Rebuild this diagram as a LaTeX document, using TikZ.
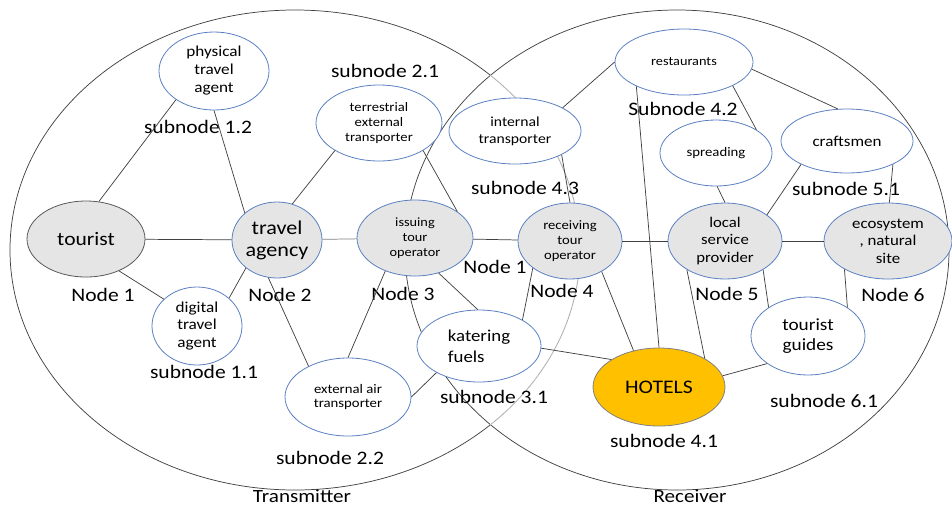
\documentclass[tikz,border=0pt]{standalone}
\usepackage{fontspec}
\setmainfont{Carlito}[FakeStretch=1.13]
\usetikzlibrary{shapes.geometric}

\definecolor{nodeblue}{HTML}{5B80C2}
\definecolor{nodegray}{HTML}{E5E5E5}
\definecolor{hotelgold}{HTML}{FFC000}
\definecolor{linkgray}{HTML}{404040}
\newcommand\fsz[2]{\fontsize{#1}{#2}\selectfont}

\begin{document}
\begin{tikzpicture}[x=0.75pt, y=-0.75pt,
    rxy/.style 2 args={minimum width=#1*1.5pt, minimum height=#2*1.5pt},
    subnode/.style={ellipse, draw=nodeblue, line width=0.6pt, fill=white, inner sep=0pt, align=center},
    mainnode/.style={subnode, fill=nodegray},
    lbl/.style={font=\fsz{14.3}{16}},
    link/.style={draw=linkgray, line width=0.55pt}]
\useasboundingbox (0,0) rectangle (952,508);

% the two regions
\node (transmitter) [ellipse, draw=linkgray, line width=0.55pt, rxy={285}{240}] at (295,250) {};
\node (receiver)    [ellipse, draw=linkgray, line width=0.55pt, rxy={272}{240}] at (677,250) {};
\begin{scope}
  \clip (677,250) ellipse [x radius=204pt, y radius=180pt];
  \draw[white, line width=1.2pt] (295,250) ellipse [x radius=213.75pt, y radius=180pt];
  \draw[gray!70, line width=0.5pt] (295,250) ellipse [x radius=213.75pt, y radius=180pt];
\end{scope}

% Specification of nodes (position, etc.)
\node (tourist)       [mainnode, draw=black!65, rxy={59}{38}, font=\fsz{14.3}{16}]   at (86,239)  {tourist};
\node (agency)        [mainnode, rxy={45}{38}, font=\fsz{14.7}{16.5}]               at (277,240) {travel\\agency};
\node (issuing)       [mainnode, rxy={58}{38}, font=\fsz{9.5}{11.2}]                 at (415,238) {issuing\\tour\\operator};
\node (receiving)     [mainnode, rxy={52}{38}, font=\fsz{9.7}{11.2}]                 at (570,241) {receiving\\tour\\operator};
\node (localService)  [mainnode, rxy={57}{38}, font=\fsz{11.1}{13}]                  at (725,241) {local\\service\\provider};
\node (ecosystem)     [mainnode, rxy={64}{38}, font=\fsz{11.2}{13}]                  at (888,241) {ecosystem\\, natural\\site};

\node (physicalAgent) [subnode, rxy={55}{39}, font=\fsz{11.4}{13.5}]                 at (214,71)  {physical\\travel\\agent};
\node (terrestrial)   [subnode, rxy={63}{38}, font=\fsz{9.7}{11.2}]                  at (379,123) {terrestrial\\external\\transporter};
\node (internal)      [subnode, rxy={66}{33}, font=\fsz{10.4}{12.5}]                 at (515,131) {internal\\transporter};
\node (restaurants)   [subnode, rxy={69}{33}, font=\fsz{9.5}{11}]                    at (684,62)  {restaurants};
\node (spreading)     [subnode, rxy={56}{33}, font=\fsz{9.8}{11}]                    at (716,153) {spreading};
\node (craftsmen)     [subnode, rxy={66}{32}, font=\fsz{11.3}{13}]                   at (847,141) {craftsmen};
\node (digitalAgent)  [subnode, rxy={45}{39}, font=\fsz{11.4}{13}]                   at (197,326) {digital\\travel\\agent};
\node (externalAir)   [subnode, rxy={63}{39}, font=\fsz{9.8}{10.7}]                  at (348,397) {external air\\transporter};
\node (katering)      [subnode, rxy={62}{36}, font=\fsz{12.5}{15.5}, align=left]     at (479,346) {katering\\fuels};
\node (hotels)        [subnode, fill=hotelgold, draw=gray, rxy={66}{39}, font=\fsz{14.4}{16}] at (659,387) {HOTELS};
\node (guides)        [subnode, rxy={57}{39}, font=\fsz{12.8}{15}]                   at (808,336) {tourist\\guides};

% labels
\node (lblSub12)   [lbl] at (198,127) {subnode 1.2};
\node (lblSub21)   [lbl] at (385,71)  {subnode 2.1};
\node (lblNode1)   [lbl] at (103,295) {Node 1};
\node (lblNode2)   [lbl] at (280,295) {Node 2};
\node (lblNode3)   [lbl] at (403,294) {Node 3};
\node (lblNode1b)  [lbl] at (495,267) {Node 1};
\node (lblNode4)   [lbl] at (562,291) {Node 4};
\node (lblNode5)   [lbl] at (727,294) {Node 5};
\node (lblNode6)   [lbl] at (893,295) {Node 6};
\node (lblSub11)   [lbl] at (204,372) {subnode 1.1};
\node (lblSub22)   [lbl] at (330,458) {subnode 2.2};
\node (lblSub31)   [lbl] at (494,397) {subnode 3.1};
\node (lblSub41)   [lbl] at (664,441) {subnode 4.1};
\node (lblSub61)   [lbl] at (824,401) {subnode 6.1};
\node (lblSub43)   [lbl] at (525,188) {subnode 4.3};
\node (lblSub42)   [lbl] at (683,109) {Subnode 4.2};
\node (lblSub51)   [lbl] at (846,189) {subnode 5.1};
\node (lblTrans)   [font=\fsz{14}{16}, inner sep=1pt] at (302,496) {Transmitter};
\node (lblRecv)    [font=\fsz{14}{16}, inner sep=1pt] at (690,496) {Receiver};

\draw[link]             (tourist.71) -- (physicalAgent.217);
\draw[link]             (tourist) -- (agency);
\draw[link]             (tourist.-44) -- (digitalAgent.141);
\draw[link]             (physicalAgent.-90) -- (agency.140);
\draw[link]             (agency.67) -- (terrestrial.-148);
\draw[link, draw=gray]  (agency) -- (issuing);
\draw[link]             (agency.-138) -- (digitalAgent.41);
\draw[link]             (agency.-103) -- (externalAir.142);

\draw[link]             (terrestrial.-32) -- (issuing.32);
\draw[link]             (issuing) -- (receiving);
\draw[link]             (issuing.-132) -- (externalAir.90);
\draw[link]             (issuing.-56) -- (katering.92);
\draw[link]             (katering.-148) -- (externalAir.0);
\draw[link]             (katering.-2) -- (hotels.150);
\draw[link]             (katering.31) -- (receiving.-144);

\draw[link]             (receiving.-44) -- (hotels.125);
\draw[link]             (internal.-27) -- (receiving.90);
\draw[link]             (internal.26) -- (restaurants.180);
\draw[link]             (restaurants.-153) -- (hotels.90);
\draw[link]             (restaurants.-26) -- (spreading.30);
\draw[link]             (restaurants.-6) -- (craftsmen.106);
\draw[link]             (spreading.-88) -- (localService.90);
\draw[link]             (craftsmen.-153) -- (localService.32);
\draw[link]             (craftsmen.-27) -- (ecosystem.88);

\draw[link]             (receiving) -- (localService);
\draw[link]             (localService) -- (ecosystem);
\draw[link]             (localService.-143) -- (hotels.32);
\draw[link]             (localService.-37) -- (guides.144);
\draw[link]             (ecosystem.-147) -- (guides.36);
\draw[link]             (guides.-146) -- (hotels.10);

\end{tikzpicture}
\end{document}
